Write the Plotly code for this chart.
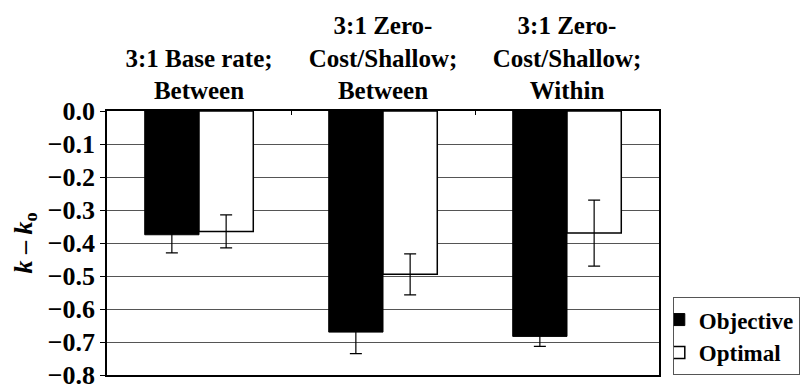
import plotly.graph_objects as go

categories = ["3:1 Base rate;<br>Between", "3:1 Zero-<br>Cost/Shallow;<br>Between", "3:1 Zero-<br>Cost/Shallow;<br>Within"]
objective = [-0.375, -0.67, -0.683]
objective_err = [0.055, 0.065, 0.03]
optimal = [-0.365, -0.495, -0.37]
optimal_err = [0.05, 0.062, 0.1]
y_ticks = [0.0, -0.1, -0.2, -0.3, -0.4, -0.5, -0.6, -0.7, -0.8]

FONT = "Liberation Serif, Times New Roman, Times, serif"

fig = go.Figure()
fig.add_trace(go.Bar(
    name="Objective", x=categories, y=objective,
    marker=dict(color="black", line=dict(color="black", width=1)),
    error_y=dict(type="data", array=objective_err, color="black", thickness=1.2, width=6),
))
fig.add_trace(go.Bar(
    name="Optimal", x=categories, y=optimal,
    marker=dict(color="white", line=dict(color="black", width=1.5)),
    error_y=dict(type="data", array=optimal_err, color="black", thickness=1.2, width=6),
))

fig.update_layout(
    width=811, height=384,
    margin=dict(l=107, r=152, t=111, b=9, autoexpand=False),
    paper_bgcolor="white", plot_bgcolor="white",
    barmode="group", bargap=0.41, bargroupgap=0,
    font=dict(family=FONT, size=22, color="black", weight="bold"),
    showlegend=True,
    legend=dict(
        x=1.025, y=0.295, xanchor="left", yanchor="top",
        bordercolor="#555", borderwidth=1, bgcolor="white",
        font=dict(family=FONT, size=23, weight="bold"),
        itemwidth=30, tracegroupgap=0, indentation=-15,
    ),
)
fig.update_xaxes(
    side="top", automargin=False,
    showline=True, linecolor="black", linewidth=2, mirror=True,
    ticks="inside", tickson="boundaries", ticklen=4, tickcolor="black",
    tickfont=dict(family=FONT, size=25, weight="bold"),
    showgrid=False,
)
fig.update_yaxes(
    range=[-0.8, 0.0], tickvals=y_ticks, tickformat=".1f", automargin=False,
    ticklabeloverflow="allow",
    showline=True, linecolor="black", linewidth=1.5, mirror=True,
    ticks="outside", ticklen=5, tickcolor="black",
    showgrid=True, gridcolor="#555", gridwidth=1, zeroline=False,
    tickfont=dict(family=FONT, size=26, weight="bold"),
    title=dict(text="<i>k</i> – <i>k</i><sub>o</sub>", font=dict(family=FONT, size=26, weight="bold"), standoff=8),
)

fig.write_html("out.html", config={"displayModeBar": False},
               post_script="document.body.style.margin='0';")
